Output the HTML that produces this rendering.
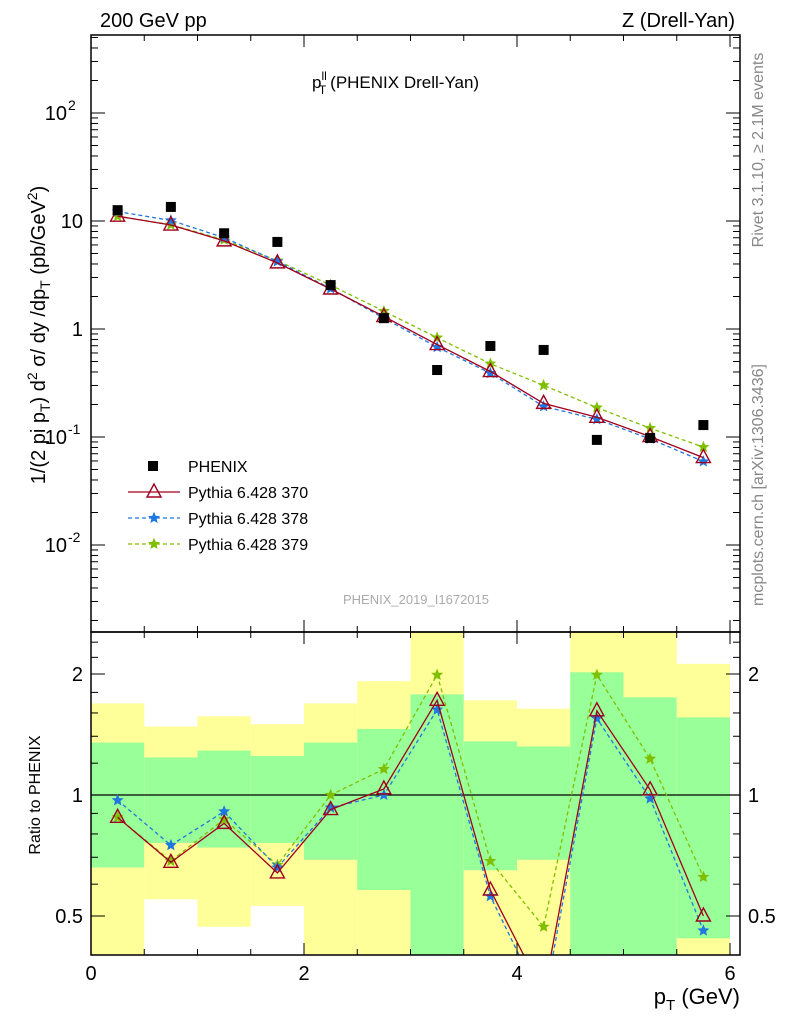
<!DOCTYPE html>
<html><head><meta charset="utf-8"><style>
body{margin:0;background:#fff}
svg{display:block;font-family:"Liberation Sans",sans-serif}
</style></head><body>
<svg id="c" width="786" height="1024" viewBox="0 0 786 1024" xmlns="http://www.w3.org/2000/svg">
<g id="bands"></g>
<g id="marks"></g>
<g id="axes"></g>
<text x="100" y="27" font-size="20">200 GeV pp</text>
<text x="735" y="27" font-size="20" text-anchor="end">Z (Drell-Yan)</text>
<text x="312" y="88" font-size="17">p<tspan font-size="12" dy="-8">ll</tspan><tspan font-size="12" dx="-8" dy="14">T</tspan><tspan dy="-6" dx="4">(PHENIX Drell-Yan)</tspan></text>
<text x="416" y="604" font-size="13" fill="#aaa" text-anchor="middle">PHENIX_2019_I1672015</text>
<text transform="translate(763,150) rotate(-90)" font-size="16" fill="#888" text-anchor="middle">Rivet 3.1.10, ≥ 2.1M events</text>
<text transform="translate(763,485) rotate(-90)" font-size="16" fill="#888" text-anchor="middle">mcplots.cern.ch [arXiv:1306.3436]</text>
<text transform="translate(45,335) rotate(-90)" font-size="20" text-anchor="middle">1/(2 pi p<tspan font-size="14" dy="5">T</tspan><tspan dy="-5">) d</tspan><tspan font-size="14" dy="-8">2</tspan><tspan dy="8"> σ/ dy /dp</tspan><tspan font-size="14" dy="5">T</tspan><tspan dy="-5"> (pb/GeV</tspan><tspan font-size="14" dy="-8">2</tspan><tspan dy="8">)</tspan></text>
<text transform="translate(40,795) rotate(-90)" font-size="16" text-anchor="middle">Ratio to PHENIX</text>
<text x="740" y="1004" font-size="22" text-anchor="end">p<tspan font-size="15" dy="6">T</tspan><tspan dy="-6"> (GeV)</tspan></text>
<g id="legend"></g>
</svg>
<script>
const binEdges=[0,0.5,1,1.5,2,2.5,3,3.5,4,4.5,5,5.5,6];
const binCenters=[0.25,0.75,1.25,1.75,2.25,2.75,3.25,3.75,4.25,4.75,5.25,5.75];
const dataY=[12.6,13.5,7.7,6.4,2.55,1.26,0.417,0.696,0.64,0.094,0.098,0.129];
const ratio370=[0.88,0.68,0.85,0.64,0.92,1.035,1.72,0.58,0.32,1.62,1.03,0.50];
const ratio378=[0.97,0.75,0.91,0.66,0.93,1.0,1.63,0.56,0.30,1.55,0.98,0.46];
const ratio379=[0.88,0.685,0.87,0.67,1.0,1.16,1.99,0.685,0.47,1.99,1.23,0.625];
const yellowHi=[1.69,1.48,1.57,1.50,1.69,1.92,2.6,1.72,1.64,2.6,2.6,2.12];
const yellowLo=[0.3,0.55,0.47,0.53,0.3,0.3,0.3,0.3,0.3,0.3,0.3,0.3];
const greenHi=[1.35,1.24,1.29,1.25,1.35,1.46,1.78,1.36,1.32,2.02,1.75,1.56];
const greenLo=[0.66,0.76,0.74,0.76,0.69,0.58,0.3,0.65,0.69,0.3,0.3,0.44];
const mainTicks=[[0.01,"10","-2"],[0.1,"10","-1"],[1,"1",""],[10,"10",""],[100,"10","2"]];
const ratioTicks=[[0.5,"0.5"],[1,"1"],[2,"2"]];
const xTicks=[0,2,4,6];

const NS="http://www.w3.org/2000/svg";
const L=91,R=740,MT=35,MB=632,RT=632,RB=955;
const X=v=>L+v*106.5;
const YM=v=>329-Math.log10(v)*108;
const YR=v=>795-Math.log2(v)*121;
function mk(p,t,a){const e=document.createElementNS(NS,t);for(const k in a)e.setAttribute(k,a[k]);p.appendChild(e);return e;}
const bands=document.getElementById('bands'),marks=document.getElementById('marks'),axes=document.getElementById('axes'),leg=document.getElementById('legend');
const clipR=v=>Math.min(RB,Math.max(RT,YR(v)));
for(let i=0;i<binCenters.length;i++){
  let y=mk(bands,'rect',{x:X(binEdges[i]),width:X(binEdges[i+1])-X(binEdges[i]),y:clipR(yellowHi[i]),height:clipR(yellowLo[i])-clipR(yellowHi[i]),fill:'#ffff99'});
  
  
  let g=mk(bands,'rect',{x:X(binEdges[i]),width:X(binEdges[i+1])-X(binEdges[i]),y:clipR(greenHi[i]),height:clipR(greenLo[i])-clipR(greenHi[i]),fill:'#99ff99'});
  
  
}
mk(marks,'line',{x1:L,x2:R,y1:YR(1),y2:YR(1),stroke:'#000','stroke-width':1.3});
mk(mk(marks,'clipPath',{id:'rc'}),'rect',{x:L,y:RT,width:R-L,height:RB-RT});
function star(p,cx,cy,r,col){let pts=[];for(let k=0;k<10;k++){const a=-Math.PI/2+k*Math.PI/5,rr=k%2?r*0.45:r;pts.push((cx+rr*Math.cos(a)).toFixed(1)+','+(cy+rr*Math.sin(a)).toFixed(1));}
 const s=mk(p,'polygon',{points:pts.join(' '),fill:col,stroke:col,'stroke-width':1});}
function tri(p,cx,cy,col){const s=mk(p,'polygon',{points:`${cx},${cy-8} ${cx-7},${cy+5} ${cx+7},${cy+5}`,fill:'none',stroke:col,'stroke-width':1.4});}
const series=[[ratio379,'#7fbf00','4,3','star','pythia-379'],[ratio378,'#1f77e0','4,3','star','pythia-378'],[ratio370,'#a0001e','','tri','pythia-370']];
series.forEach(([r,col,dash,m,name])=>{
  const gm=mk(marks,'g',{});
  const gr=mk(marks,'g',{'clip-path':'url(#rc)'});
  const mainPts=binCenters.map((x,i)=>X(x)+','+YM(r[i]*dataY[i]).toFixed(1)).join(' ');
  const ratPts=binCenters.map((x,i)=>X(x)+','+YR(r[i]).toFixed(1)).join(' ');
  mk(gm,'polyline',{points:mainPts,fill:'none',stroke:col,'stroke-width':1.3,'stroke-dasharray':dash});
  mk(gr,'polyline',{points:ratPts,fill:'none',stroke:col,'stroke-width':1.3,'stroke-dasharray':dash});
  binCenters.forEach((x,i)=>{
    if(m==='star'){star(gm,X(x),YM(r[i]*dataY[i]),5,col);star(gr,X(x),YR(r[i]),5,col);}
    else{tri(gm,X(x),YM(r[i]*dataY[i]),col);tri(gr,X(x),YR(r[i]),col);}
  });
});
binCenters.forEach((x,i)=>{const s=mk(marks,'rect',{x:X(x)-5,y:YM(dataY[i])-5,width:10,height:10,fill:'#000'});
 });
mk(axes,'rect',{x:L,y:MT,width:R-L,height:MB-MT,fill:'none',stroke:'#000','stroke-width':1.5});
mk(axes,'rect',{x:L,y:RT,width:R-L,height:RB-RT,fill:'none',stroke:'#000','stroke-width':1.5});
const tk=(x1,y1,x2,y2)=>mk(axes,'line',{x1,y1,x2,y2,stroke:'#000','stroke-width':1});
for(let v=0;v<=6.05;v+=0.5){const x=X(v),big=Math.abs(v%2)<1e-6;const l=big?12:6;
 tk(x,MB,x,MB-l);tk(x,MT,x,MT+l);tk(x,RB,x,RB-l);tk(x,RT,x,RT+l);}
for(let d=-3;d<=2;d++)for(let k=1;k<10;k++){const v=k*Math.pow(10,d),y=YM(v);if(y<MT||y>MB)continue;const l=k===1?14:7;tk(L,y,L+l,y);tk(R,y,R-l,y);}
[0.4,0.5,0.6,0.7,0.8,0.9,1,1.2,1.4,1.6,1.8,2,2.2,2.4].forEach(v=>{const y=YR(v);const l=(v===0.5||v===1||v===2)?14:7;tk(L,y,L+l,y);tk(R,y,R-l,y);});
xTicks.forEach(v=>{const t=mk(axes,'text',{x:X(v),y:980,'font-size':20,'text-anchor':'middle'});t.textContent=v;});
mainTicks.forEach(([v,b,e])=>{const t=mk(axes,'text',{x:e?L-24:L-8,y:YM(v)+7,'font-size':20,'text-anchor':'end'});t.textContent=b;
 if(e){const s=mk(axes,'text',{x:L-23,y:YM(v)-3,'font-size':14,'text-anchor':'start'});s.textContent=e;}});
ratioTicks.forEach(([v,s])=>{[[L-8,'end'],[R+8,'start']].forEach(([x,a])=>{const t=mk(axes,'text',{x,y:YR(v)+7,'font-size':20,'text-anchor':a});t.textContent=s;});});
const items=[['PHENIX','sq','#000',''],['Pythia 6.428 370','tri','#a0001e',''],['Pythia 6.428 378','star','#1f77e0','4,3'],['Pythia 6.428 379','star','#7fbf00','4,3']];
items.forEach(([lab,m,col,dash],i)=>{const y=466+i*26;const g=mk(leg,'g',{});
 if(m==='sq')mk(g,'rect',{x:148,y:y-5,width:10,height:10,fill:'#000'});
 else{mk(g,'line',{x1:128,x2:180,y1:y,y2:y,stroke:col,'stroke-width':1.3,'stroke-dasharray':dash});if(m==='tri')tri(g,154,y,col);else star(g,154,y,5,col);}
 const t=mk(g,'text',{x:188,y:y+6,'font-size':16});t.textContent=lab;});
</script>
</body></html>
